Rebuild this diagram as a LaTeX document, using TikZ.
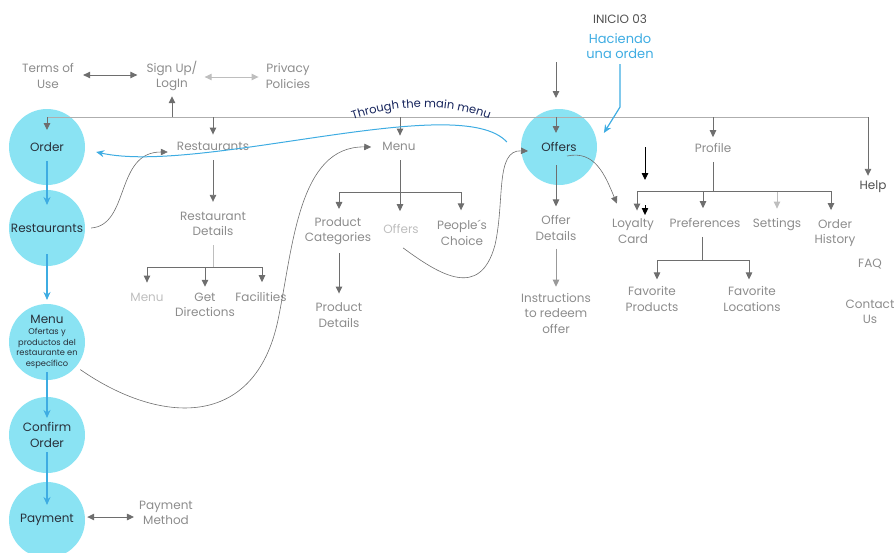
\documentclass[tikz,border=0pt]{standalone}
\usepackage{fontspec}
\setmainfont{Poppins}
\usetikzlibrary{arrows.meta,decorations.text}

\definecolor{bubblefill}{RGB}{138,227,243}
\definecolor{flowblue}{RGB}{62,172,226}
\definecolor{ink}{RGB}{40,48,58}
\definecolor{linegray}{RGB}{110,110,110}
\definecolor{textgray}{RGB}{140,140,140}
\definecolor{palegray}{RGB}{190,190,190}
\definecolor{darkgray}{RGB}{80,80,80}
\definecolor{navy}{RGB}{22,36,92}

\newcommand{\mapfont}{\fontsize{12}{15.5}\selectfont}
\newcommand{\notefont}{\fontsize{8.3}{10.8}\selectfont}

\tikzstyle{station} = [circle, fill=bubblefill, minimum size=76pt, inner sep=0pt, text=ink, align=center, font=\mapfont]
\tikzstyle{screen} = [inner sep=1pt, text=textgray, align=center, font=\mapfont]
\tikzstyle{faint} = [screen, text=palegray]
\tikzstyle{link} = [line width=0.9pt, draw=linegray]
\tikzstyle{arrow} = [link, -{Triangle[width=6.5pt,length=7pt]}]
\tikzstyle{twoway} = [link, {Triangle[width=6.5pt,length=7pt]}-{Triangle[width=6.5pt,length=7pt]}]
\tikzstyle{jump} = [line width=0.6pt, draw=linegray, -{Triangle[width=6.5pt,length=7pt]}]
\tikzstyle{flow} = [line width=1.2pt, draw=flowblue, -{Stealth[width=7pt,length=8pt]}]

\begin{document}
\begin{tikzpicture}[x=1pt,y=-1pt]
    \useasboundingbox (0,0) rectangle (896,552);

    % ordering steps
    \node (order) [station] at (47,147) {Order};
    \node (rest) [station] at (47,228) {Restaurants};
    \node (menuc) [station] at (47,342) {};
    \node (menunote) [text=ink, align=center, font=\notefont] at (47,342) {{\mapfont Menu}\\[0pt]Ofertas y\\productos del\\restaurante en\\específico};
    \node (confirm) [station] at (47,435) {Confirm\\Order};
    \node (payment) [station] at (47,520) {Payment};
    \node (offers) [station] at (559,147) {Offers};

    % start marker
    \node (inicio) [text=darkgray, font=\mapfont] at (620,19) {INICIO 03};
    \node (haciendo) [text=flowblue, align=center, font=\fontsize{13}{15}\selectfont] at (620,46) {Haciendo\\una orden};

    % top row
    \node (terms) [screen] at (48,76) {Terms of\\Use};
    \node (signup) [screen] at (172,76) {Sign Up/\\LogIn};
    \node (privacy) [screen] at (288,76) {Privacy\\Policies};

    % screens
    \node (restaurants) [screen] at (213,146) {Restaurants};
    \node (restdetails) [screen] at (213,224) {Restaurant\\Details};
    \node (rdmenu) [faint] at (147,297) {Menu};
    \node (directions) [screen] at (205,305) {Get\\Directions};
    \node (facilities) [screen] at (261,297) {Facilities};

    \node (menu) [screen] at (399,146) {Menu};
    \node (prodcat) [screen] at (338,231) {Product\\Categories};
    \node (menuoffers) [faint] at (401,229) {Offers};
    \node (choice) [screen] at (462,233) {People´s\\Choice};
    \node (proddetails) [screen] at (339,315) {Product\\Details};

    \node (offerdetails) [screen] at (556,228) {Offer\\Details};
    \node (instructions) [screen] at (556,313) {Instructions\\to redeem\\offer};

    \node (profile) [screen] at (713,148) {Profile};
    \node (loyalty) [screen] at (633,231) {Loyalty\\Card};
    \node (prefs) [screen] at (705,223) {Preferences};
    \node (settings) [screen] at (777,225) {Settings};
    \node (history) [screen] at (835,233) {Order\\History};
    \node (favprod) [screen] at (652,299) {Favorite\\Products};
    \node (favloc) [screen] at (752,299) {Favorite\\Locations};

    \node (help) [screen, text=darkgray] at (873,187) {Help};
    \node (faq) [screen] at (870,264) {FAQ};
    \node (contact) [screen] at (870,312) {Contact\\Us};

    \node (paymethod) [screen] at (166,513) {Payment\\Method};

    % main menu bar
    \coordinate (busL) at (47,117);
    \coordinate (busR) at (868,117);
    \coordinate (busSU) at (172,117);
    \coordinate (busRe) at (213,117);
    \coordinate (busMe) at (400,117);
    \coordinate (busOf) at (556,117);
    \coordinate (busPr) at (713,117);
    \coordinate (start) at (556,62);

    \draw [link, draw=palegray!80!linegray] (busL) -- (busR);
    \draw [arrow] (busL) -- ([yshift=17pt]order.center);
    \draw [arrow] (busR) -- ([xshift=-5pt, yshift=4pt]help.north);
    \draw [arrow] (busSU) -- ([yshift=-4pt]signup.south);
    \draw [arrow] (busRe) -- ([yshift=6pt]restaurants.north);
    \draw [arrow] (busMe) -- ([xshift=1pt, yshift=5pt]menu.north);
    \draw [arrow, shorten >=19pt] (start) -- (busOf);
    \draw [arrow] (busOf) -- ([xshift=-3pt, yshift=14pt]offers.center);
    \draw [arrow] (busPr) -- ([yshift=5pt]profile.north);

    \draw [twoway] ([xshift=8pt, yshift=1pt]terms.east) -- ([xshift=-8pt, yshift=1pt]signup.west);
    \draw [twoway, draw=palegray] ([xshift=6pt, yshift=-1pt]signup.east) -- ([xshift=-6pt, yshift=-1pt]privacy.west);
    \draw [twoway] ([xshift=2pt, yshift=3pt]payment.east) -- ([xshift=-4pt, yshift=-4pt]paymethod.west);

    % ordering flow
    \draw [flow] ([yshift=-14pt]order.center) -- ([yshift=23pt]rest.center);
    \draw [flow] ([yshift=-26pt]rest.center) -- ([yshift=42pt]menuc.center);
    \draw [flow] ([yshift=-30pt]menuc.center) -- ([yshift=17pt]confirm.center);
    \draw [flow] ([yshift=-17pt]confirm.center) -- ([yshift=15pt]payment.center);
    \draw [flow] ([yshift=-2pt]haciendo.south) -- ++(0,43) -- ([shift={(9pt,1pt)}]offers.20);

    % restaurants
    \coordinate (rdbus) at (213,267);
    \draw [arrow] ([yshift=-9pt]restaurants.south) -- ([yshift=9pt]restdetails.north);
    \draw [link, draw=palegray] ([yshift=-8pt]restdetails.south) -- (rdbus);
    \draw [arrow] (rdbus) -| ([yshift=9pt]rdmenu.north);
    \draw [arrow] (rdbus -| directions) -- ([yshift=5pt]directions.north);
    \draw [arrow] (rdbus) -| ([xshift=1pt, yshift=9pt]facilities.north);

    % menu
    \coordinate (mbus) at (400,192);
    \draw [link] ([xshift=1pt, yshift=-9pt]menu.south) -- (mbus);
    \draw [arrow] (mbus) -| ([xshift=1pt, yshift=7pt]prodcat.north);
    \draw [arrow] (mbus) -| ([xshift=-1pt, yshift=12pt]menuoffers.north);
    \draw [arrow] (mbus) -| ([xshift=-1pt, yshift=9pt]choice.north);
    \draw [arrow] ([xshift=1pt, yshift=-7pt]prodcat.south) -- ([yshift=8pt]proddetails.north);

    % offers
    \draw [arrow] ([xshift=-3pt, yshift=-18pt]offers.center) -- ([yshift=8pt]offerdetails.north);
    \draw [arrow, draw=linegray!70] ([yshift=-7pt]offerdetails.south) -- ([yshift=5pt]instructions.north);

    % profile
    \coordinate (pbus) at (713,191);
    \draw [link] ([yshift=-8pt]profile.south) -- (pbus);
    \draw [arrow] (pbus) -| ([xshift=4pt, yshift=7pt]loyalty.north);
    \draw [arrow] (pbus -| 703,0) -- ([xshift=-2pt, yshift=9pt]prefs.north);
    \draw [arrow, draw=palegray] (pbus -| 777,0) -- ([yshift=9pt]settings.north);
    \draw [arrow] (pbus) -| ([xshift=-4pt, yshift=8pt]history.north);
    \coordinate (prefbus) at (702,260);
    \draw [link] ([xshift=-3pt, yshift=-8pt]prefs.south) -- (prefbus);
    \draw [arrow] (prefbus) -| ([xshift=5pt, yshift=6pt]favprod.north);
    \draw [arrow] (prefbus) -| ([xshift=-3pt, yshift=6pt]favloc.north);

    % black markers
    \coordinate (mark1) at (645,147);
    \coordinate (mark2) at (645,180);
    \coordinate (mark3) at (645,205);
    \coordinate (mark4) at (645,215);
    \draw [arrow, draw=black] (mark1) -- (mark2);
    \draw [arrow, draw=black, line width=0.4pt] (mark3) -- (mark4);

    % jumps between screens
    \draw [jump] ([xshift=6pt]rest.east) .. controls (130,225) and (115,152) .. ([shift={(-8pt,-6pt)}]restaurants.west);
    \draw [jump] ([shift={(4pt,-3pt)}]menuc.-40) .. controls (160,425) and (255,430) .. (278,320)
        .. controls (293,248) and (298,146) .. ([shift={(-10pt,-1pt)}]menu.west);
    \draw [jump] ([shift={(2pt,-13pt)}]menuoffers.south) .. controls (440,275) and (480,300) .. (495,245)
        .. controls (505,200) and (495,150) .. ([shift={(-31pt,-4pt)}]offers.center);
    \draw [jump] ([shift={(8pt,-9pt)}]offers.center) .. controls (595,150) and (605,175) .. ([shift={(6pt,14pt)}]loyalty.north west);

    % back to order through the main menu
    \draw [flow, line width=1pt] ([shift={(-14pt,5pt)}]offers.west) .. controls (460,90) and (200,175) .. ([xshift=11pt, yshift=-5pt]order.east);
    \path [decorate, decoration={text along path, text align=center,
        text={|\fontsize{11.5}{13}\selectfont\color{navy}|Through the main menu}}]
        (348,121) .. controls (400,103) and (450,103) .. (494,121);

\end{tikzpicture}
\end{document}
